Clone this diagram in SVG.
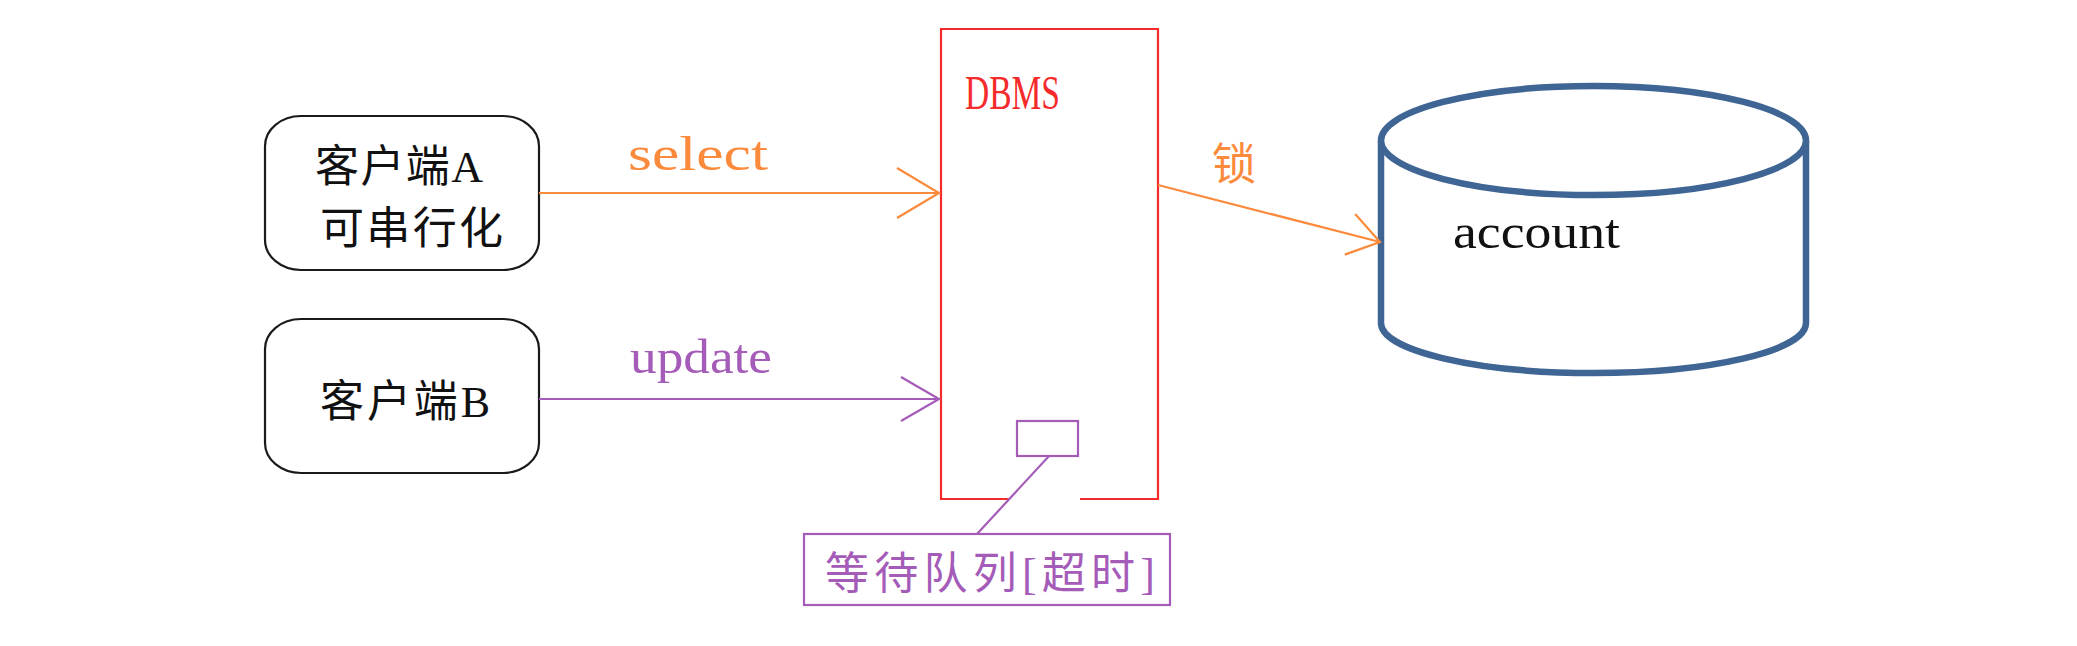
<svg xmlns="http://www.w3.org/2000/svg" width="2077" height="646" viewBox="0 0 2077 646">
<style>
.bg{fill:#ffffff}
.client{fill:#ffffff;stroke:#1a1a1a;stroke-width:2.2}
.t{font-family:"Liberation Serif","Noto Sans CJK SC",serif;font-size:44px}
.lat{font-family:"Liberation Serif","Noto Sans CJK SC",serif;font-size:48px}
.dbms{fill:none;stroke:#f52a2a;stroke-width:2.2}
.cyl{fill:#ffffff;stroke:#3e6593;stroke-width:6.5}
.purp{fill:none;stroke:#a55cb8;stroke-width:2.2}
.orange{stroke:#fb8a3c;stroke-width:2.2;fill:none}
.violet{stroke:#a55cb8;stroke-width:2.2;fill:none}
</style>
<defs>
<marker id="arrO" markerUnits="userSpaceOnUse" markerWidth="60" markerHeight="60" viewBox="-50 -30 60 60" refX="0" refY="0" orient="auto">
<path d="M-42,-25 L0,0 L-42,25" fill="none" stroke="#fb8a3c" stroke-width="2.2"/>
</marker>
<marker id="arrOs" markerUnits="userSpaceOnUse" markerWidth="60" markerHeight="60" viewBox="-50 -30 60 60" refX="0" refY="0" orient="auto">
<path d="M-31,-21 L0,0 L-31,21" fill="none" stroke="#fb8a3c" stroke-width="2.2"/>
</marker>
<marker id="arrP" markerUnits="userSpaceOnUse" markerWidth="60" markerHeight="60" viewBox="-50 -30 60 60" refX="0" refY="0" orient="auto">
<path d="M-38,-22 L0,0 L-38,22" fill="none" stroke="#a55cb8" stroke-width="2.2"/>
</marker>
</defs>
<rect class="bg" x="0" y="0" width="2077" height="646"/>

<g id="clientA">
<rect class="client" x="265" y="116" width="274" height="154" rx="36" ry="30"/>
<text class="t" x="315" y="182" textLength="168" fill="#111">客户端A</text>
<text class="t" x="320" y="244" textLength="183" fill="#111">可串行化</text>
</g>

<g id="clientB">
<rect class="client" x="265" y="319" width="274" height="154" rx="36" ry="30"/>
<text class="t" x="320" y="417" textLength="170" fill="#111">客户端B</text>
</g>

<g id="dbms">
<path class="dbms" d="M1010,499 H941 V29 H1158 V499 H1080"/>
<text class="lat" x="965" y="109" textLength="95" lengthAdjust="spacingAndGlyphs" fill="#f52a2a">DBMS</text>
</g>

<g id="queue">
<rect class="purp" x="1017" y="421" width="61" height="35"/>
</g>

<g id="caption">
<rect class="purp" x="804" y="534" width="366" height="71" stroke-width="2.8"/>
<text class="t" x="825" y="589" textLength="330" fill="#a55cb8">等待队列[超时]</text>
</g>

<g id="account">
<path class="cyl" d="M1381,141 V323 A212.5,50 0 0 0 1806,323 V141"/>
<ellipse class="cyl" cx="1593.5" cy="140.5" rx="212.5" ry="54.5"/>
<text class="lat" x="1453" y="248" textLength="167" lengthAdjust="spacingAndGlyphs" fill="#111">account</text>
</g>

<g id="connectors">
<line class="orange" x1="539" y1="193" x2="939" y2="193" marker-end="url(#arrO)"/>
<text class="lat" x="628" y="170" textLength="140" lengthAdjust="spacingAndGlyphs" fill="#fb8a3c">select</text>
<line class="violet" x1="539" y1="399" x2="939" y2="399" marker-end="url(#arrP)"/>
<text class="lat" x="630" y="373" textLength="142" lengthAdjust="spacingAndGlyphs" fill="#a55cb8">update</text>
<line class="orange" x1="1158" y1="185" x2="1380" y2="242" marker-end="url(#arrOs)"/>
<text class="t" x="1212" y="180" fill="#fb8a3c">锁</text>
<line class="violet" x1="1049" y1="456" x2="977" y2="534"/>
</g>
</svg>
